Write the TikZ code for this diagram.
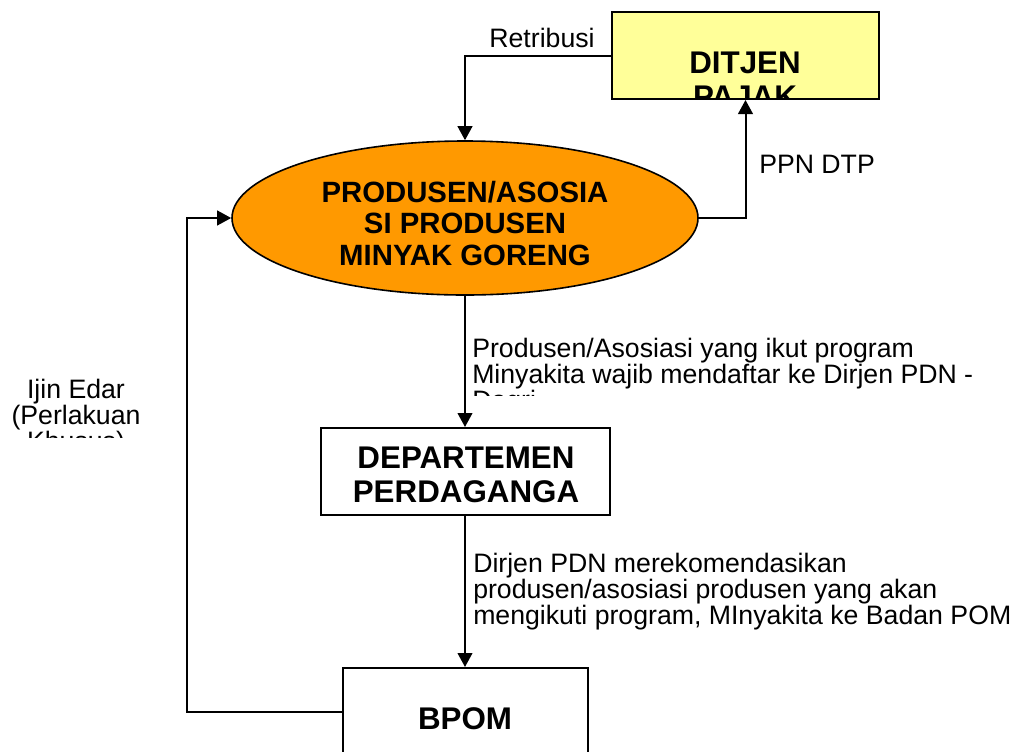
\documentclass[tikz,border=0pt]{standalone}
\usepackage{fontspec}
\setmainfont{Liberation Sans}
\usepackage{xcolor}
\definecolor{pajakYellow}{HTML}{FFFF99}
\definecolor{prodOrange}{HTML}{FF9900}
\usetikzlibrary{shapes.geometric, arrows.meta, positioning}

\begin{document}
\begin{tikzpicture}[
    x=0.75pt, y=-0.75pt,
    unitbox/.style={draw=black, rectangle, line width=1.5pt, inner sep=0pt},
    boxtext/.style={font=\fontsize{23.5}{25.5}\selectfont\bfseries, align=center, inner sep=0pt},
    prodtext/.style={font=\fontsize{22}{23.6}\selectfont\bfseries, align=center, inner sep=0pt},
    note/.style={font=\fontsize{20}{19.5}\selectfont, align=left, inner sep=0pt},
    arrow/.style={-{Triangle[length=10.5pt, width=11pt]}, line width=1.5pt}
]
\useasboundingbox (0,0) rectangle (1022,751);
\clip (0,0) rectangle (1022,751);

% units
\node (pajak) [unitbox, fill=pajakYellow, minimum width=200.25pt, minimum height=65.25pt] at (745.5,55.5) {};
\node (prod) [ellipse, draw=black, line width=1.2pt, fill=prodOrange, minimum width=349.5pt, minimum height=115.5pt, inner sep=0pt] at (465,218) {};
\node (dept) [unitbox, minimum width=216.75pt, minimum height=65.25pt] at (465.5,471.5) {};
\node (bpom) [unitbox, minimum width=183.75pt, minimum height=90pt] at (465.5,728) {};

% texts in the units (base = last line)
\begin{scope}
  \clip (612,13) rectangle (879,97);
  \node (pajaktext) [boxtext, anchor=base] at (745,107) {DITJEN\\PAJAK};
\end{scope}
\node (prodtext) [prodtext, anchor=base] at (465,265) {PRODUSEN/ASOSIA\\SI PRODUSEN\\MINYAK GORENG};
\node (depttext) [boxtext, anchor=base] at (466,502) {DEPARTEMEN\\PERDAGANGA};
\node (bpomtext) [boxtext, anchor=base] at (465,729) {BPOM};

% flows
\coordinate (loopcorner) at (187,712);
\draw[arrow] (pajak.west) -| (prod.north);
\draw[arrow] (prod.east) -| (pajak.south);
\draw[arrow] (prod.south) -- (prod.south |- dept.north);
\draw[arrow] (prod.south |- dept.south) -- (prod.south |- bpom.north);
\draw[arrow] (bpom.west |- loopcorner) -- (loopcorner) |- (prod.west);

% labels
\node (retribusi) [note, anchor=base] at (542,47) {Retribusi};
\node (ppn) [note, anchor=base west] at (759,173) {PPN DTP};
\begin{scope}
  \clip (0,300) rectangle (200,437);
  \node (ijin) [note, align=center, anchor=base] at (76,450) {Ijin Edar\\(Perlakuan\\Khusus)};
\end{scope}
\begin{scope}
  \clip (470,300) rectangle (1022,395);
  \node (daftar) [note, anchor=base west] at (472,409) {Produsen/Asosiasi yang ikut program\\Minyakita wajib mendaftar ke Dirjen PDN -\\Dagri};
\end{scope}
\node (rekomendasi) [note, anchor=base west] at (473,624) {Dirjen PDN merekomendasikan\\produsen/asosiasi produsen yang akan\\mengikuti program, MInyakita ke Badan POM};

\end{tikzpicture}
\end{document}
